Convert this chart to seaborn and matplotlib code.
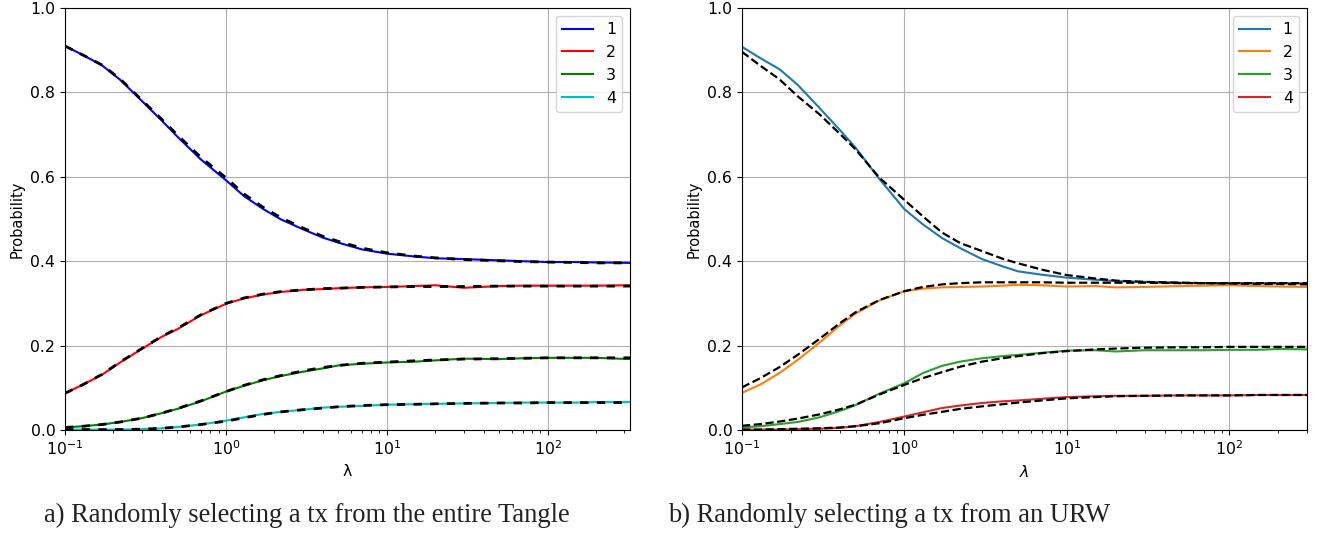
import numpy as np
import pandas as pd
import matplotlib
matplotlib.use("Agg")
import matplotlib.pyplot as plt
import seaborn as sns

# ---------------- data ----------------
lam_a = [0.1, 0.13, 0.17, 0.22, 0.3, 0.4, 0.5, 0.7, 1.0, 1.3, 1.7, 2.2, 3, 4, 5, 7,
         10, 15, 20, 30, 50, 70, 100, 150, 200, 325]
lam_b = [0.1, 0.13, 0.17, 0.22, 0.3, 0.4, 0.5, 0.7, 1.0, 1.3, 1.7, 2.2, 3, 4, 5, 7,
         10, 15, 20, 30, 50, 70, 100, 150, 200, 300]
labels = ["1", "2", "3", "4"]

# panel a: simulated (solid) and model (dashed)
a_sim_1 = [0.910, 0.888, 0.864, 0.830, 0.780, 0.733, 0.695, 0.641, 0.592, 0.554, 0.524, 0.499, 0.476,
           0.456, 0.444, 0.428, 0.418, 0.411, 0.407, 0.405, 0.402, 0.400, 0.398, 0.398, 0.397, 0.396]
a_sim_2 = [0.087, 0.108, 0.131, 0.160, 0.192, 0.221, 0.239, 0.272, 0.299, 0.312, 0.321, 0.327, 0.332,
           0.334, 0.336, 0.338, 0.339, 0.341, 0.343, 0.337, 0.341, 0.342, 0.342, 0.342, 0.342, 0.343]
a_sim_3 = [0.006, 0.009, 0.013, 0.019, 0.028, 0.040, 0.050, 0.068, 0.091, 0.105, 0.118, 0.128, 0.138,
           0.146, 0.153, 0.157, 0.160, 0.162, 0.165, 0.169, 0.168, 0.170, 0.171, 0.171, 0.171, 0.168]
a_sim_4 = [0.001, 0.001, 0.001, 0.001, 0.002, 0.004, 0.007, 0.013, 0.022, 0.030, 0.038, 0.043, 0.048,
           0.053, 0.055, 0.057, 0.060, 0.061, 0.062, 0.063, 0.064, 0.065, 0.065, 0.065, 0.066, 0.066]
a_mod_1 = [0.910, 0.888, 0.865, 0.832, 0.782, 0.736, 0.699, 0.646, 0.598, 0.559, 0.528, 0.503, 0.479,
           0.459, 0.447, 0.431, 0.420, 0.412, 0.408, 0.404, 0.401, 0.399, 0.398, 0.397, 0.396, 0.396]
a_mod_2 = [0.087, 0.108, 0.132, 0.161, 0.193, 0.222, 0.241, 0.273, 0.300, 0.313, 0.322, 0.328, 0.332,
           0.335, 0.336, 0.338, 0.339, 0.340, 0.340, 0.340, 0.341, 0.341, 0.341, 0.341, 0.341, 0.341]
a_mod_3 = [0.006, 0.009, 0.013, 0.019, 0.028, 0.040, 0.051, 0.069, 0.091, 0.106, 0.119, 0.129, 0.140,
           0.148, 0.153, 0.158, 0.161, 0.164, 0.166, 0.168, 0.169, 0.170, 0.171, 0.171, 0.171, 0.171]
a_mod_4 = [0.001, 0.001, 0.001, 0.001, 0.002, 0.004, 0.007, 0.013, 0.021, 0.029, 0.037, 0.043, 0.048,
           0.052, 0.055, 0.058, 0.060, 0.061, 0.062, 0.063, 0.064, 0.064, 0.065, 0.065, 0.065, 0.065]

# panel b
b_sim_1 = [0.908, 0.881, 0.855, 0.818, 0.763, 0.711, 0.669, 0.595, 0.523, 0.487, 0.455, 0.431, 0.405,
           0.388, 0.376, 0.368, 0.361, 0.356, 0.353, 0.351, 0.349, 0.348, 0.348, 0.348, 0.348, 0.348]
b_sim_2 = [0.088, 0.108, 0.135, 0.166, 0.207, 0.248, 0.276, 0.307, 0.329, 0.335, 0.338, 0.339, 0.340,
           0.342, 0.344, 0.343, 0.340, 0.341, 0.338, 0.339, 0.341, 0.342, 0.343, 0.341, 0.340, 0.339]
b_sim_3 = [0.006, 0.009, 0.014, 0.019, 0.030, 0.045, 0.059, 0.086, 0.111, 0.135, 0.152, 0.162, 0.170,
           0.175, 0.178, 0.183, 0.188, 0.189, 0.186, 0.189, 0.189, 0.189, 0.190, 0.190, 0.192, 0.191]
b_sim_4 = [0.001, 0.001, 0.001, 0.002, 0.003, 0.005, 0.009, 0.019, 0.032, 0.042, 0.052, 0.058, 0.064,
           0.068, 0.070, 0.074, 0.078, 0.080, 0.081, 0.081, 0.082, 0.082, 0.082, 0.083, 0.083, 0.083]
b_mod_1 = [0.896, 0.863, 0.831, 0.791, 0.748, 0.702, 0.665, 0.598, 0.545, 0.506, 0.468, 0.443, 0.424,
           0.406, 0.395, 0.380, 0.367, 0.359, 0.354, 0.351, 0.349, 0.348, 0.347, 0.346, 0.346, 0.345]
b_mod_2 = [0.101, 0.123, 0.149, 0.178, 0.216, 0.253, 0.279, 0.308, 0.329, 0.339, 0.345, 0.348, 0.350,
           0.350, 0.350, 0.350, 0.349, 0.349, 0.349, 0.349, 0.348, 0.348, 0.348, 0.348, 0.348, 0.348]
b_mod_3 = [0.010, 0.014, 0.020, 0.027, 0.037, 0.049, 0.060, 0.084, 0.107, 0.123, 0.137, 0.150, 0.162,
           0.170, 0.175, 0.182, 0.187, 0.191, 0.193, 0.195, 0.196, 0.196, 0.197, 0.197, 0.197, 0.197]
b_mod_4 = [0.001, 0.001, 0.002, 0.003, 0.004, 0.006, 0.009, 0.016, 0.028, 0.036, 0.043, 0.050, 0.056,
           0.061, 0.065, 0.070, 0.075, 0.078, 0.080, 0.081, 0.082, 0.082, 0.082, 0.083, 0.083, 0.083]

captions = ["a) Randomly selecting a tx from the entire Tangle",
            "b) Randomly selecting a tx from an URW"]
xlabels = ["λ", r"$\lambda$"]

colors_a = ["#0000ff", "#ff0000", "#008000", "#00bfbf"]
colors_b = ["#1f77b4", "#ff7f0e", "#2ca02c", "#d62728"]

# ---------------- drawing ----------------
FS = 11.3
plt.rcParams["font.family"] = ["DejaVu Sans"]
plt.rcParams["font.size"] = FS

fig = plt.figure(figsize=(13.2, 5.34), dpi=100)
ax_a = fig.add_axes([65 / 1320, 104 / 534, 565 / 1320, 422 / 534])
ax_b = fig.add_axes([742 / 1320, 104 / 534, 565 / 1320, 422 / 534])

panels = [
    (ax_a, lam_a, [a_sim_1, a_sim_2, a_sim_3, a_sim_4], [a_mod_1, a_mod_2, a_mod_3, a_mod_4],
     colors_a, dict(lw=2.0, dashes=(3, 3))),
    (ax_b, lam_b, [b_sim_1, b_sim_2, b_sim_3, b_sim_4], [b_mod_1, b_mod_2, b_mod_3, b_mod_4],
     colors_b, dict(lw=1.6, dashes=(3.7, 1.6))),
]

for i, (ax, lam, sims, mods, cols, dstyle) in enumerate(panels):
    for lab, ys, c in zip(labels, sims, cols):
        sns.lineplot(x=lam, y=ys, ax=ax, color=c, lw=1.5, label=lab, zorder=2)
    for ys in mods:
        sns.lineplot(x=lam, y=ys, ax=ax, color="black", lw=dstyle["lw"], zorder=3,
                     legend=False).lines[-1].set_dashes(dstyle["dashes"])
    ax.set_xscale("log")
    ax.set_xlim(lam[0], lam[-1])
    ax.set_ylim(0, 1.0)
    ax.set_yticks([0.0, 0.2, 0.4, 0.6, 0.8, 1.0])
    ax.grid(True, which="major", color="#b0b0b0", lw=0.8)
    ax.set_axisbelow(True)
    ax.set_ylabel("Probability", fontsize=FS * 0.93)
    ax.set_xlabel(xlabels[i], fontsize=FS)
    ax.tick_params(labelsize=FS)
    ax.legend(loc="upper right", fontsize=FS)

fig.text(44 / 1320, 12 / 534, captions[0], family=["Liberation Serif"], fontsize=19.1,
         ha="left", va="baseline", color="#222222")
fig.text(668 / 1320, 12 / 534, captions[1], family=["Liberation Serif"], fontsize=19.1,
         ha="left", va="baseline", color="#222222")

fig.savefig("out.png", dpi=100)
